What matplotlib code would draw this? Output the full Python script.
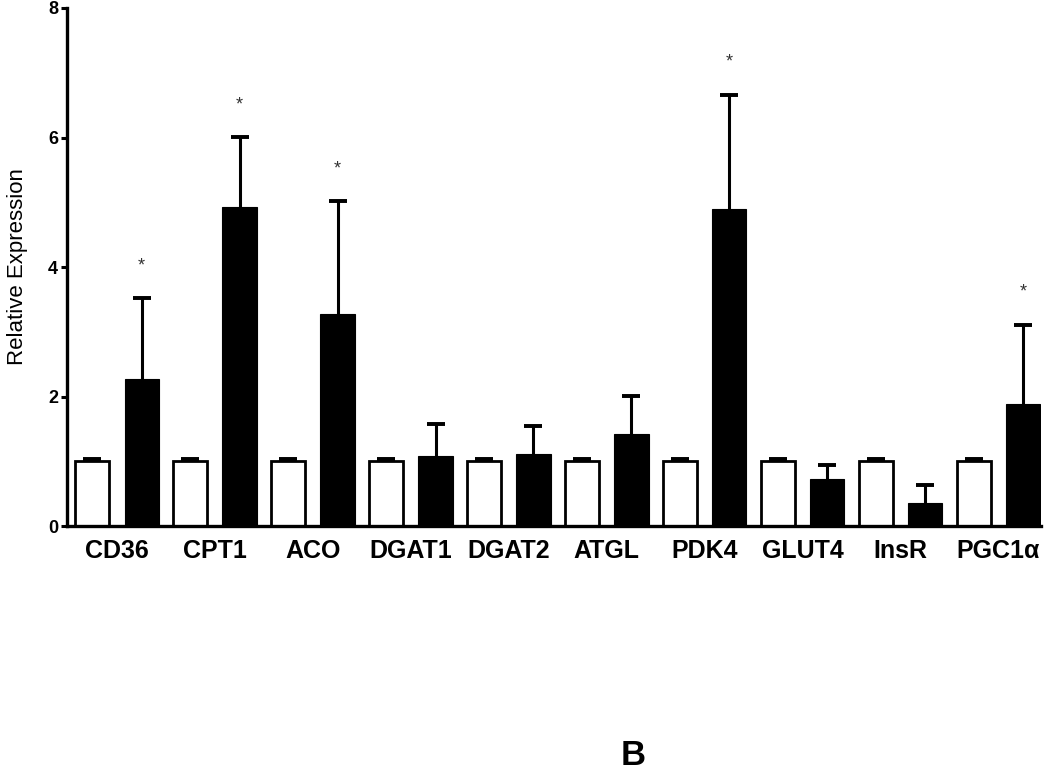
import matplotlib
matplotlib.use("Agg")
import matplotlib.pyplot as plt
import numpy as np

plt.rcParams['font.family'] = ['Liberation Sans', 'DejaVu Sans']

genes = ["CD36", "CPT1", "ACO", "DGAT1", "DGAT2", "ATGL", "PDK4", "GLUT4", "InsR", "PGC1α"]
control_mean = [1.0, 1.0, 1.0, 1.0, 1.0, 1.0, 1.0, 1.0, 1.0, 1.0]
control_err = [0.03, 0.03, 0.03, 0.03, 0.03, 0.03, 0.03, 0.03, 0.03, 0.03]
treated_mean = [2.27, 4.93, 3.27, 1.09, 1.12, 1.42, 4.90, 0.73, 0.35, 1.88]
treated_err = [1.25, 1.08, 1.75, 0.48, 0.43, 0.59, 1.76, 0.22, 0.28, 1.23]
significant = [True, True, True, False, False, False, True, False, False, True]
y_ticks = [0, 2, 4, 6, 8]

fig = plt.figure(figsize=(10.5, 7.76), dpi=100)
ax = fig.add_axes([0.0638, 0.322, 0.9272, 0.6677])

x = np.arange(len(genes))
w = 0.35
off = 0.2526

ax.bar(x - off, control_mean, width=w, color='white', edgecolor='black', linewidth=2.0, zorder=2)
ax.bar(x + off, treated_mean, width=w, color='black', edgecolor='black', linewidth=0.8, zorder=2)

zeros = np.zeros(len(genes))
for pos, mean, err in [(x - off, control_mean, control_err), (x + off, treated_mean, treated_err)]:
    mean = np.asarray(mean)
    err = np.asarray(err)
    # upward stem only
    ax.errorbar(pos, mean, yerr=[zeros, err], fmt='none', ecolor='black',
                elinewidth=2.2, capsize=0, zorder=3)
    # cap at the top only
    ax.errorbar(pos, mean + err, yerr=zeros, fmt='none', ecolor='black',
                elinewidth=0, capsize=6.8, capthick=2.6, zorder=3)

for i, s in enumerate(significant):
    if s:
        ax.text(x[i] + off, treated_mean[i] + treated_err[i] + 0.50, '*', ha='center', va='center',
                fontsize=13, color='#333333')

ax.set_xlim(-0.51, 9.43)
ax.set_ylim(0, 8)
ax.set_yticks(y_ticks)
ax.set_yticklabels([str(t) for t in y_ticks], fontweight='bold', fontsize=13)
ax.set_xticks(x)
ax.set_xticklabels(genes, fontweight='bold', fontsize=18)
ax.tick_params(axis='x', length=0, pad=9)
ax.tick_params(axis='y', length=4.5, width=2.2, direction='out', pad=2)
for side in ['top', 'right']:
    ax.spines[side].set_visible(False)
for side in ['left', 'bottom']:
    ax.spines[side].set_linewidth(2.4)
ax.set_ylabel('Relative Expression', fontsize=16, labelpad=14)

fig.text(0.603, 0.014, 'B', ha='center', va='baseline', fontsize=25, fontweight='bold')

fig.savefig('out.png', dpi=100)
